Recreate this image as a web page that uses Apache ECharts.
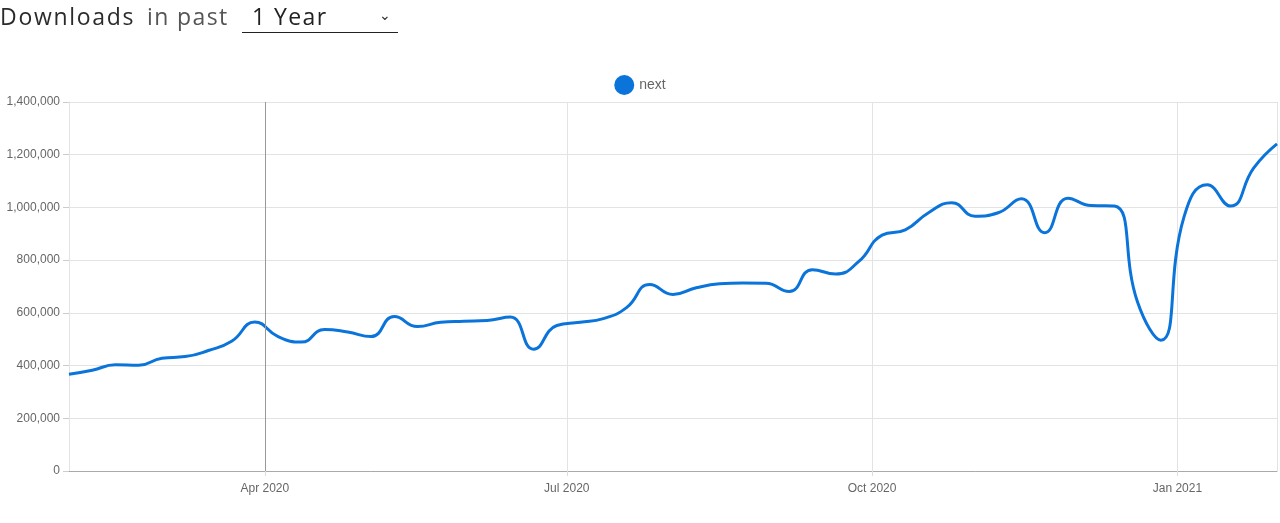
<!DOCTYPE html>
<html>
<head>
<meta charset="utf-8">
<script src="https://cdn.jsdelivr.net/npm/echarts@6/dist/echarts.min.js"></script>
<style>
html,body{margin:0;padding:0;background:#fff;}
#wrap{position:relative;width:1280px;height:523px;}
#chart{position:absolute;left:0;top:0;width:1280px;height:523px;}
#head{position:absolute;left:0;top:0;z-index:2;font-family:'Open Sans',sans-serif;font-size:23px;line-height:30px;white-space:nowrap;}
#head .a{position:absolute;left:0;top:1px;color:#2b2b2b;letter-spacing:1.7px;}
#head .b{position:absolute;left:147px;top:1px;color:#555;letter-spacing:1.4px;}
#head .sel{position:absolute;left:242px;top:0;width:156px;height:32px;border-bottom:1.3px solid #222;}
#head .sel .v{position:absolute;left:10px;top:1px;color:#222;letter-spacing:1.4px;}
#head .sel .c{position:absolute;left:137px;top:0px;font-size:14px;color:#333;font-family:'DejaVu Sans';}
</style>
</head>
<body>
<div id="wrap">
<div id="chart"></div>
<div id="head"><span class="a">Downloads</span><span class="b">in past</span><div class="sel"><span class="v">1 Year</span><span class="c">&#x2304;</span></div></div>
</div>
<script>
// Weekly download counts for "next", starting week of 2020-02-02
const startDate = [2020, 1, 2];
const seriesName = 'next';
const downloads = [
  367000, 382000, 403000, 401000, 428000, 434000, 457000, 492000, 565000, 510000,
  489000, 537000, 527000, 510000, 586000, 548000, 564000, 568000, 571000, 584000,
  462000, 552000, 564000, 578000, 620000, 708000, 670000, 695000, 710000, 713000,
  712000, 681000, 764000, 747000, 795000, 895000, 915000, 980000, 1018000, 967000,
  980000, 1033000, 904000, 1035000, 1007000, 1005000, 640000, 496000, 965000, 1086000,
  1005000, 1150000, 1241000
];
const monthNames = ['Jan','Feb','Mar','Apr','May','Jun','Jul','Aug','Sep','Oct','Nov','Dec'];
const yTicks = [0, 200000, 400000, 600000, 800000, 1000000, 1200000, 1400000];
const highlightDate = [2020, 3, 1];

const DAY = 86400000;
const t0 = new Date(startDate[0], startDate[1], startDate[2]).getTime();
const points = downloads.map((v, i) => [t0 + i * 7 * DAY, v]);

const chart = echarts.init(document.getElementById('chart'));
chart.setOption({
  animation: false,
  backgroundColor: '#fff',
  legend: {
    top: 70, left: 'center',
    itemWidth: 20, itemHeight: 20, itemGap: 10,
    icon: 'circle',
    textStyle: { color: '#666', fontSize: 14, fontFamily: 'Liberation Sans' },
    data: [seriesName]
  },
  grid: { left: 69, right: 3, top: 102, bottom: 52, containLabel: false },
  xAxis: {
    type: 'time',
    min: points[0][0],
    max: points[points.length - 1][0],
    splitNumber: 4,
    axisLine: { lineStyle: { color: '#aaa', width: 1 } },
    axisTick: { show: true, length: 5, lineStyle: { color: '#ddd' } },
    splitLine: { show: true, lineStyle: { color: '#e3e3e3' } },
    axisLabel: {
      color: '#666', fontSize: 12, fontFamily: 'Liberation Sans', margin: 12,
      showMinLabel: false, showMaxLabel: false,
      formatter: function (v) { const d = new Date(v); return monthNames[d.getMonth()] + ' ' + d.getFullYear(); }
    }
  },
  yAxis: {
    type: 'value',
    min: yTicks[0], max: yTicks[yTicks.length - 1], interval: yTicks[1] - yTicks[0],
    axisLine: { show: true, lineStyle: { color: '#e3e3e3' } },
    axisTick: { show: true, length: 6, lineStyle: { color: '#ccc' } },
    splitLine: { lineStyle: { color: '#e3e3e3' } },
    axisLabel: {
      color: '#666', fontSize: 12, fontFamily: 'Liberation Sans', margin: 9,
      formatter: function (v) { return v.toLocaleString('en-US'); }
    }
  },
  series: [{
    name: seriesName,
    type: 'line',
    data: points,
    smooth: 0.5,
    showSymbol: false,
    symbol: 'circle',
    itemStyle: { color: '#0a74da' },
    lineStyle: { color: '#0a74da', width: 3 },
    markLine: {
      silent: true, symbol: 'none', label: { show: false },
      lineStyle: { color: '#999', width: 1, type: 'solid' },
      data: [{ xAxis: new Date(highlightDate[0], highlightDate[1], highlightDate[2]).getTime() }]
    }
  }]
});
</script>
</body>
</html>
